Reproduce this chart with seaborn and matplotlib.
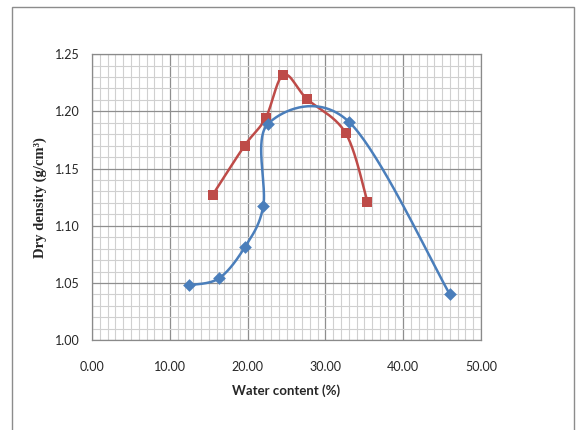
import numpy as np
import pandas as pd
import seaborn as sns
import matplotlib.pyplot as plt
from matplotlib.patches import Rectangle

# readings
water_blue = [12.4, 16.3, 19.6, 22.0, 22.6, 33.0, 46.0]
density_blue = [1.048, 1.054, 1.081, 1.117, 1.189, 1.191, 1.040]
water_red = [15.5, 19.6, 22.3, 24.6, 27.6, 32.6, 35.4]
density_red = [1.127, 1.170, 1.194, 1.232, 1.211, 1.181, 1.121]

x_ticks = [0, 10, 20, 30, 40, 50]
y_ticks = [1.00, 1.05, 1.10, 1.15, 1.20, 1.25]

blue = '#4A7EBB'
red = '#BE4B48'


def smooth(xs, ys, n=40):
    # Excel style smoothed line (Catmull-Rom as cubic Bezier)
    p = np.column_stack([xs, ys]).astype(float)
    p = np.vstack([p[0], p, p[-1]])
    out = []
    t = np.linspace(0, 1, n)[:, None]
    for i in range(1, len(p) - 2):
        p0, p1, p2, p3 = p[i - 1], p[i], p[i + 1], p[i + 2]
        b1 = p1 + (p2 - p0) / 6
        b2 = p2 - (p3 - p1) / 6
        seg = ((1 - t) ** 3) * p1 + 3 * ((1 - t) ** 2) * t * b1 + 3 * (1 - t) * t ** 2 * b2 + t ** 3 * p2
        out.append(seg)
    out = np.vstack(out)
    return pd.DataFrame({'x': out[:, 0], 'y': out[:, 1]})


sns.set_style('white')
plt.rcParams['font.family'] = ['Lato', 'DejaVu Sans']

fig = plt.figure(figsize=(5.76, 4.30), dpi=100)
ax = fig.add_axes([0.16, 0.209, 0.675, 0.665])

# chart border
fig.patches.append(Rectangle((0.020, -0.05), 0.977, 1.034, transform=fig.transFigure,
                             fill=False, edgecolor='#8c8c8c', linewidth=1.0))

ax.set_xlim(0, 50)
ax.set_ylim(1.00, 1.25)
ax.set_xticks(x_ticks)
ax.set_yticks(y_ticks)
ax.set_xticks(np.arange(0, 51, 1), minor=True)
ax.set_yticks(np.arange(1.00, 1.2501, 0.01), minor=True)
ax.grid(which='minor', color='#d0d0d0', linewidth=0.8)
ax.grid(which='major', color='#8e8e8e', linewidth=0.9)
ax.set_axisbelow(True)
ax.set_xticklabels(['%.2f' % v for v in x_ticks])
ax.set_yticklabels(['%.2f' % v for v in y_ticks])
ax.tick_params(which='major', direction='out', length=4, color='#8a8a8a', labelsize=9, pad=11)
ax.tick_params(axis='y', pad=5)
ax.tick_params(which='minor', length=0)
for s in ax.spines.values():
    s.set_color('#8a8a8a')
    s.set_linewidth(0.9)

red_curve = smooth(water_red, density_red)
blue_curve = smooth(water_blue, density_blue)
sns.lineplot(data=red_curve, x='x', y='y', sort=False, estimator=None, color=red, linewidth=1.8, ax=ax)
sns.scatterplot(x=water_red, y=density_red, marker='s', s=60, color=red, edgecolor=red, linewidth=0, ax=ax, zorder=3)
sns.lineplot(data=blue_curve, x='x', y='y', sort=False, estimator=None, color=blue, linewidth=1.8, ax=ax)
sns.scatterplot(x=water_blue, y=density_blue, marker='D', s=42, color=blue, edgecolor=blue, linewidth=0, ax=ax, zorder=4)

ax.set_xlabel('Water content (%)', fontsize=9.5, fontweight='bold', labelpad=8)
ax.set_ylabel('Dry density (g/cm³)', fontsize=10.5, fontweight='bold', family=['Liberation Serif', 'DejaVu Serif'], labelpad=6)

fig.savefig('out.png', dpi=100)
